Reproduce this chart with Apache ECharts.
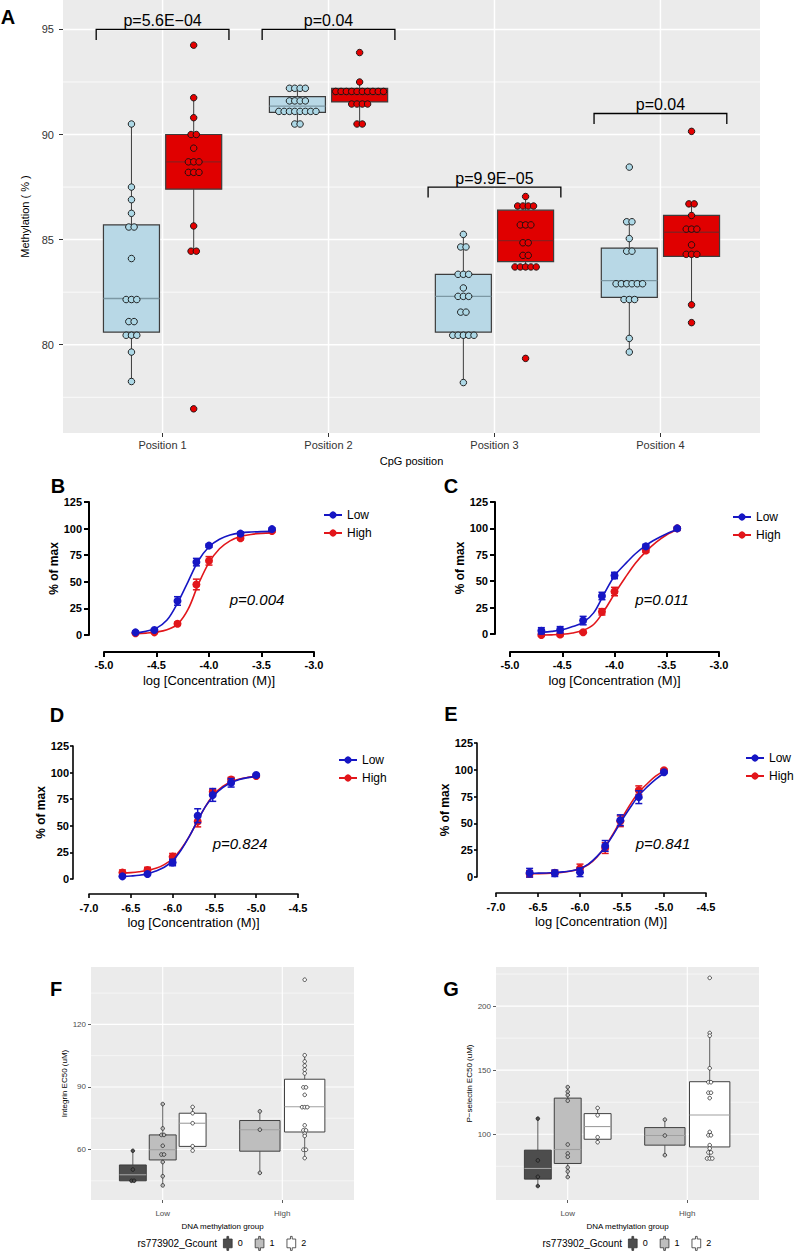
<!DOCTYPE html>
<html>
<head>
<meta charset="utf-8">
<script src="https://cdn.jsdelivr.net/npm/echarts@6.0.0/dist/echarts.min.js"></script>
<style>
  html, body { margin: 0; padding: 0; background: #fff; }
  #chart { width: 800px; height: 1252px; }
</style>
</head>
<body>
<div id="chart"></div>
<script>
const FONT = "'Liberation Sans', Arial, Helvetica, sans-serif";
const NARROW = "'Liberation Sans Narrow', 'Liberation Sans', Arial, sans-serif";
const BLUE = '#1616C4';
const RED = '#E2161B';

// ---------- A: methylation (%) per CpG position ----------
const positions = ['Position 1', 'Position 2', 'Position 3', 'Position 4'];
const lowPos1 = [90.5, 87.5, 86.9, 86.25, 85.6, 85.6, 84.1, 82.15, 82.15, 82.15, 81.1, 81.1, 80.45, 80.45, 80.45, 79.65, 78.25];
const highPos1 = [94.25, 91.75, 90.8, 90.0, 90.0, 89.35, 88.7, 88.7, 88.7, 88.2, 88.2, 88.2, 85.65, 84.45, 84.45, 76.95];
const lowPos2 = [92.2, 92.2, 92.2, 92.2, 91.6, 91.6, 91.6, 91.6, 91.1, 91.1, 91.1, 91.1, 91.1, 91.1, 91.1, 91.1, 90.5, 90.5];
const highPos2 = [93.9, 92.5, 92.05, 92.05, 92.05, 92.05, 92.05, 92.05, 92.05, 92.05, 92.05, 92.05, 91.45, 91.45, 91.45, 91.45, 90.5, 90.5];
const lowPos3 = [85.25, 84.65, 84.65, 83.35, 83.35, 83.35, 82.7, 82.3, 82.3, 82.3, 81.55, 81.55, 80.45, 80.45, 80.45, 80.45, 80.45, 78.2];
const highPos3 = [87.05, 86.6, 86.6, 86.6, 86.6, 85.7, 85.7, 85.7, 84.85, 84.85, 84.25, 84.25, 83.7, 83.7, 83.7, 83.7, 83.7, 79.35];
const lowPos4 = [88.45, 85.85, 85.85, 85.05, 84.45, 84.45, 82.9, 82.9, 82.9, 82.9, 82.9, 82.9, 82.15, 82.15, 82.15, 80.3, 79.65];
const highPos4 = [90.15, 86.7, 86.7, 86.15, 85.5, 85.5, 85.5, 84.75, 84.3, 84.3, 84.3, 81.9, 81.05];
// [lower whisker, Q1, median, Q3, upper whisker]
const lowBoxes = [[78.25, 80.6, 82.2, 85.7, 90.5], [90.5, 91.05, 91.35, 91.8, 92.2], [78.2, 80.6, 82.3, 83.35, 85.25], [79.65, 82.25, 83.05, 84.6, 85.85]];
const highBoxes = [[84.45, 87.4, 88.7, 90.0, 91.75], [90.5, 91.55, 91.9, 92.2, 92.5], [83.7, 83.95, 84.95, 86.4, 87.05], [81.9, 84.2, 85.35, 86.15, 86.7]];
const pLabels = ['p=5.6E\u221204', 'p=0.04', 'p=9.9E\u221205', 'p=0.04'];
const bracketLevels = [95, 95, 87.5, 91];
const aTicks = [80, 85, 90, 95];
const aMinor = [77.5, 82.5, 87.5, 92.5];

// ---------- B-E: dose response (mean +/- error, fitted curves) ----------
const concBC = [-4.7, -4.52, -4.3, -4.12, -4.0, -3.7, -3.4];
const concDE = [-6.6, -6.3, -6.0, -5.7, -5.52, -5.3, -5.0];
const fitXBC = [-4.7, -4.6, -4.5, -4.4, -4.3, -4.2, -4.1, -4.0, -3.9, -3.8, -3.7, -3.6, -3.5, -3.4];
const fitXDE = [-6.6, -6.5, -6.4, -6.3, -6.2, -6.1, -6.0, -5.9, -5.8, -5.7, -5.6, -5.5, -5.4, -5.3, -5.2, -5.1, -5.0];

const bLow = [2.5, 4.7, 32, 68.5, 84, 95.3, 99.5];
const bLowErr = [1, 1, 4, 3.5, 1.5, 1.5, 1];
const bHigh = [1.6, 2.5, 10.6, 47.5, 69.7, 91, 97.8];
const bHighErr = [1, 1, 1.5, 5, 4, 1.5, 1];
const bLowFit = [1.8, 3.5, 6.5, 14, 30, 50, 70, 83, 90, 94, 96, 96.8, 97.2, 97.4];
const bHighFit = [1.3, 1.8, 2.8, 5, 10, 24, 48, 68, 81, 88.5, 92.5, 94.5, 95.5, 96];

const cLow = [3, 4, 12.7, 36, 55.4, 83, 100];
const cLowErr = [3, 3, 4, 3.5, 3, 2, 1];
const cHigh = [-1, -0.5, 1.6, 21, 40.2, 79, 100];
const cHighErr = [1, 1, 1, 3, 4, 1.5, 1];
const cLowFit = [1.5, 2.5, 4, 7, 11, 20, 38, 55, 66, 76, 84, 90, 95, 99];
const cHighFit = [-1, -0.8, -0.3, 1, 3.5, 9, 22, 38, 53, 67, 78, 87, 94, 99];

const dLow = [2.5, 4.7, 15.5, 59.5, 79, 90.4, 97.7];
const dLowErr = [1, 1, 3, 6.5, 6, 4, 1];
const dHigh = [6, 8.5, 21, 54, 82, 93.5, 96.8];
const dHighErr = [2.5, 2.5, 3, 5, 2, 2, 1];
const dLowFit = [2.3, 2.8, 3.5, 5, 7.5, 11, 17, 27, 40, 55, 69, 79, 86, 90.5, 93.5, 95.3, 96.5];
const dHighFit = [5.5, 6, 6.8, 8, 10, 13.5, 19, 28, 40, 55, 69, 80, 87, 91.5, 94, 95.5, 96.5];

const eLow = [4, 3.5, 4.4, 29, 53, 74.5, 97.7];
const eLowErr = [4, 3, 4, 5, 5, 6, 1];
const eHigh = [3, 4, 8, 27, 52, 81, 99.5];
const eHighErr = [3, 2, 4, 5, 5, 4, 1];
const eLowFit = [3.5, 3.6, 3.8, 4.2, 4.8, 5.8, 8, 12, 19, 28, 40, 53, 65, 76, 84, 91, 97];
const eHighFit = [3, 3.1, 3.3, 3.7, 4.4, 5.6, 7.8, 11.5, 18.5, 28.5, 41, 55, 68, 79, 87, 94, 99];

// ---------- F, G: EC50 by methylation group and rs773902 G count ----------
const methylGroups = ['Low', 'High'];
const gLevels = ['0', '1', '2'];
const fLow0 = [59.4, 50.4, 45.0, 45.0];
const fLow1 = [81.8, 70.1, 67.0, 67.0, 61.8, 57.6, 57.6, 54.0, 47.2, 42.8];
const fLow2 = [80.4, 77.4, 72.6, 61.6, 59.5];
const fHigh1 = [78.3, 69.5, 48.8];
const fHigh2 = [141.4, 105.2, 102.2, 100.2, 98.3, 96.5, 89.8, 89.8, 86.2, 80.3, 80.3, 80.3, 71.6, 69.2, 69.2, 67.6, 66.5, 59.9, 59.9, 55.9];
const fLow0Box = [45.0, 45.0, 47.9, 52.6, 59.4];
const fLow1Box = [42.8, 55.0, 59.9, 67.0, 81.8];
const fLow2Box = [59.5, 61.5, 72.6, 77.4, 80.4];
const fHigh1Box = [48.8, 59.2, 69.5, 73.9, 78.3];
const fHigh2Box = [55.9, 68.4, 80.5, 93.7, 105.2];
const fTicks = [60, 90, 120];
const fMinor = [45, 75, 105, 135];

const gLow0 = [112.2, 79.6, 66.8, 59.6];
const gLow1 = [136.8, 133.2, 130.6, 126.2, 92.0, 85.0, 82.4, 74.1, 71.0, 66.6];
const gLow2 = [120.5, 114.8, 97.7, 93.8];
const gHigh1 = [111.4, 99.0, 83.7];
const gHigh2 = [222.0, 179.0, 176.9, 151.5, 140.6, 140.6, 132.4, 132.4, 128.2, 101.8, 99.2, 99.2, 91.5, 88.9, 85.8, 85.8, 81.1, 81.1, 81.1];
const gLow0Box = [59.6, 65.0, 73.3, 87.6, 112.2];
const gLow1Box = [66.6, 77.2, 88.1, 128.2, 136.8];
const gLow2Box = [93.8, 96.1, 106.0, 116.1, 120.5];
const gHigh1Box = [83.7, 91.5, 99.0, 105.2, 111.4];
const gHigh2Box = [81.1, 90.1, 115.0, 141.0, 179.0];
const gTicks = [100, 150, 200];
const gMinor = [75, 125, 175, 225];

// ---------- helpers ----------
// centred dot stacking, like geom_dotplot(stackdir = "center")
function stackDots(values, center, step) {
  const counts = {}, seen = {};
  values.forEach(v => { counts[v] = (counts[v] || 0) + 1; });
  return values.map(v => {
    seen[v] = seen[v] === undefined ? 0 : seen[v] + 1;
    return [center + (seen[v] - (counts[v] - 1) / 2) * step, v];
  });
}

// dodge position of a slot inside a category
function dodge(cat, slot, n) {
  const w = 0.75 / n;
  return { x: cat + (slot - (n - 1) / 2) * w, halfW: 0.45 * w };
}

function panelGrid(g, hMajor, hMinor, vMajor, xRef, yRef, major, minor) {
  const data = [];
  hMinor.forEach(v => data.push([0, v, minor]));
  hMajor.forEach(v => data.push([0, v, major]));
  vMajor.forEach(v => data.push([1, v, major]));
  return {
    type: 'custom', xAxisIndex: g, yAxisIndex: g, silent: true, z: 1, data,
    renderItem(params, api) {
      const cs = params.coordSys;
      const v = api.value(1), w = api.value(2);
      if (api.value(0) === 0) {
        const y = api.coord([xRef, v])[1];
        return { type: 'line', shape: { x1: cs.x, y1: y, x2: cs.x + cs.width, y2: y }, style: { stroke: '#fff', lineWidth: w } };
      }
      const x = api.coord([v, yRef])[0];
      return { type: 'line', shape: { x1: x, y1: cs.y, x2: x, y2: cs.y + cs.height }, style: { stroke: '#fff', lineWidth: w } };
    }
  };
}

function boxSeries(g, name, items, fill, medianColor, edge, lineW) {
  return {
    type: 'custom', name, xAxisIndex: g, yAxisIndex: g, z: 2, silent: true,
    itemStyle: { color: fill, borderColor: edge, borderWidth: 0.8 },
    data: items.map(it => [it.x].concat(it.stats)),
    encode: { x: 0, y: [1, 2, 3, 4, 5] },
    renderItem(params, api) {
      const it = items[params.dataIndex];
      const x = api.value(0);
      const pt = k => api.coord([x, api.value(k)]);
      const lo = pt(1), q1 = pt(2), md = pt(3), q3 = pt(4), hi = pt(5);
      const l = api.coord([x - it.halfW, 0])[0], r = api.coord([x + it.halfW, 0])[0];
      const ls = { stroke: edge, lineWidth: lineW };
      return { type: 'group', children: [
        { type: 'line', shape: { x1: lo[0], y1: lo[1], x2: q1[0], y2: q1[1] }, style: ls },
        { type: 'line', shape: { x1: q3[0], y1: q3[1], x2: hi[0], y2: hi[1] }, style: ls },
        { type: 'rect', shape: { x: l, y: q3[1], width: r - l, height: q1[1] - q3[1] }, style: { fill, stroke: edge, lineWidth: lineW * 1.2 } },
        { type: 'line', shape: { x1: l, y1: md[1], x2: r, y2: md[1] }, style: { stroke: medianColor, lineWidth: lineW * 1.4 } }
      ]};
    }
  };
}

function dotSeries(g, values, center, step, fill, size, bw) {
  return {
    type: 'scatter', xAxisIndex: g, yAxisIndex: g, z: 3, silent: true,
    symbol: 'circle', symbolSize: size,
    itemStyle: { color: fill, borderColor: '#111', borderWidth: bw, opacity: 1 },
    data: stackDots(values, center, step)
  };
}

function errorBars(g, xs, ys, errs, color, z) {
  return {
    type: 'custom', xAxisIndex: g, yAxisIndex: g, z, silent: true,
    data: xs.map((x, i) => [x, ys[i], errs[i]]),
    renderItem(params, api) {
      const x = api.value(0), y = api.value(1), e = api.value(2);
      const top = api.coord([x, y + e]), bot = api.coord([x, y - e]);
      const w = 3.5, s = { stroke: color, lineWidth: 1.5 };
      return { type: 'group', children: [
        { type: 'line', shape: { x1: top[0], y1: top[1], x2: bot[0], y2: bot[1] }, style: s },
        { type: 'line', shape: { x1: top[0] - w, y1: top[1], x2: top[0] + w, y2: top[1] }, style: s },
        { type: 'line', shape: { x1: bot[0] - w, y1: bot[1], x2: bot[0] + w, y2: bot[1] }, style: s }
      ]};
    }
  };
}

function doseSeries(g, xs, fitX, low, lowErr, lowFit, high, highErr, highFit) {
  const curve = (name, ys, color, z) => ({
    type: 'line', name, xAxisIndex: g, yAxisIndex: g, z, silent: true, clip: false,
    data: fitX.map((x, i) => [x, ys[i]]),
    smooth: 0.35, symbol: 'circle', symbolSize: 8, showSymbol: false,
    lineStyle: { color, width: 1.6 }, itemStyle: { color }
  });
  const points = (ys, color, z) => ({
    type: 'scatter', xAxisIndex: g, yAxisIndex: g, z, silent: true, clip: false,
    symbol: 'circle', symbolSize: 8, itemStyle: { color, opacity: 1 },
    data: xs.map((x, i) => [x, ys[i]])
  });
  return [
    curve('High', highFit, RED, 3), errorBars(g, xs, high, highErr, RED, 3), points(high, RED, 3),
    curve('Low', lowFit, BLUE, 4), errorBars(g, xs, low, lowErr, BLUE, 4), points(low, BLUE, 4)
  ];
}

function doseX(g, min, max, offset, small) {
  return {
    gridIndex: g, type: 'value', min, max, interval: 0.5, offset,
    axisLine: { onZero: false, lineStyle: { color: '#000', width: small ? 1.6 : 2 } },
    axisTick: { length: small ? 4 : 5, lineStyle: { color: '#000', width: small ? 1.6 : 2 } },
    axisLabel: { formatter: v => v.toFixed(1), color: '#000', fontWeight: 'bold', fontSize: 11, fontFamily: FONT, margin: small ? 8 : 7 },
    splitLine: { show: false },
    name: 'log [Concentration (M)]', nameLocation: 'middle', nameGap: 22,
    nameTextStyle: { color: '#000', fontSize: 13, fontFamily: FONT }
  };
}

function doseY(g, offset, nameGap, small) {
  return {
    gridIndex: g, type: 'value', min: 0, max: 125, interval: 25, offset,
    axisLine: { onZero: false, lineStyle: { color: '#000', width: small ? 1.6 : 2 } },
    axisTick: { length: small ? 3 : 5, lineStyle: { color: '#000', width: small ? 1.6 : 2 } },
    axisLabel: { color: '#000', fontWeight: 'bold', fontSize: 11, fontFamily: FONT, margin: small ? 4 : 7 },
    splitLine: { show: false },
    name: '% of max', nameLocation: 'middle', nameRotate: 90, nameGap,
    nameTextStyle: { color: '#000', fontSize: 12, fontWeight: 'bold', fontFamily: FONT }
  };
}

function ggX(g, name) {
  return {
    gridIndex: g, type: 'value', min: 0.4, max: 2.6,
    axisLine: { show: false }, splitLine: { show: false },
    axisTick: { show: true, customValues: [1, 2], length: 3, lineStyle: { color: '#333', width: 0.8 } },
    axisLabel: { customValues: [1, 2], formatter: v => methylGroups[v - 1], fontSize: 8, color: '#4D4D4D', fontFamily: NARROW, margin: 9 },
    name, nameLocation: 'middle', nameGap: 22,
    nameTextStyle: { fontSize: 8, color: '#000', fontFamily: NARROW }
  };
}

function ggY(g, min, max, ticks, name) {
  return {
    gridIndex: g, type: 'value', min, max,
    axisLine: { show: false }, splitLine: { show: false },
    axisTick: { show: true, customValues: ticks, length: 3, lineStyle: { color: '#333', width: 0.8 } },
    axisLabel: { customValues: ticks, fontSize: 8, color: '#4D4D4D', fontFamily: NARROW, margin: 5 },
    name, nameLocation: 'middle', nameRotate: 90, nameGap: 20,
    nameTextStyle: { fontSize: 8, color: '#000', fontFamily: NARROW }
  };
}

// F / G boxes: Low has G counts 0,1,2 (3 slots), High has 1,2 (2 slots)
function ecPanel(g, groups, levelFills, medianCol) {
  const out = [];
  gLevels.forEach((lvl, li) => {
    const items = [], dots = [];
    groups.forEach(grp => {
      const k = grp.levels.findIndex(x => x.level === li);
      if (k < 0) return;
      const d = dodge(grp.cat, k, grp.levels.length);
      items.push({ x: d.x, halfW: d.halfW, stats: grp.levels[k].box });
      dots.push(dotSeries(g, grp.levels[k].pts, d.x, 0.022, levelFills[li], 3.6, 0.7));
    });
    out.push(boxSeries(g, lvl, items, levelFills[li], medianCol, '#3A3A3A', 0.8));
    out.push(...dots);
  });
  return out;
}

const levelFills = ['#4D4D4D', '#BEBEBE', '#FFFFFF'];

// ---------- panel A series ----------
const aSeries = [panelGrid(0, aTicks, aMinor, [1, 2, 3, 4], 1, 80, 1.5, 0.8)];
const aLowItems = lowBoxes.map((b, i) => Object.assign(dodge(i + 1, 0, 2), { stats: b }));
const aHighItems = highBoxes.map((b, i) => Object.assign(dodge(i + 1, 1, 2), { stats: b }));
aSeries.push(boxSeries(0, 'Low methylation', aLowItems, '#B8D8E6', '#7C98A4', '#3D3D3D', 1));
aSeries.push(boxSeries(0, 'High methylation', aHighItems, '#E00000', '#8E1C1C', '#3D3D3D', 1));
[lowPos1, lowPos2, lowPos3, lowPos4].forEach((pts, i) => aSeries.push(dotSeries(0, pts, aLowItems[i].x, 0.032, '#ADD8E6', 6.5, 0.9)));
[highPos1, highPos2, highPos3, highPos4].forEach((pts, i) => aSeries.push(dotSeries(0, pts, aHighItems[i].x, 0.032, '#E50000', 6.5, 0.9)));
aSeries.push({
  type: 'custom', xAxisIndex: 0, yAxisIndex: 0, z: 4, silent: true,
  data: bracketLevels.map((y, i) => [i + 1, y]),
  renderItem(params, api) {
    const c = api.value(0), y = api.value(1);
    const a = api.coord([c - 0.4, y - 0.5]), b = api.coord([c - 0.4, y]);
    const d = api.coord([c + 0.4, y]), e = api.coord([c + 0.4, y - 0.5]);
    return { type: 'group', children: [
      { type: 'polyline', shape: { points: [a, b, d, e] }, style: { stroke: '#000', lineWidth: 1.3, fill: null } },
      { type: 'text', x: (b[0] + d[0]) / 2, y: b[1] - 1,
        style: { text: pLabels[params.dataIndex], fill: '#000', fontSize: 16, fontFamily: FONT,
          align: 'center', verticalAlign: 'bottom', textAlign: 'center', textVerticalAlign: 'bottom' } }
    ]};
  }
});

const series = [
  ...aSeries,
  ...doseSeries(1, concBC, fitXBC, bLow, bLowErr, bLowFit, bHigh, bHighErr, bHighFit),
  ...doseSeries(2, concBC, fitXBC, cLow, cLowErr, cLowFit, cHigh, cHighErr, cHighFit),
  ...doseSeries(3, concDE, fitXDE, dLow, dLowErr, dLowFit, dHigh, dHighErr, dHighFit),
  ...doseSeries(4, concDE, fitXDE, eLow, eLowErr, eLowFit, eHigh, eHighErr, eHighFit),
  panelGrid(5, fTicks, fMinor, [1, 2], 1, 60, 1.1, 0.55),
  ...ecPanel(5, [
    { cat: 1, levels: [{ level: 0, pts: fLow0, box: fLow0Box }, { level: 1, pts: fLow1, box: fLow1Box }, { level: 2, pts: fLow2, box: fLow2Box }] },
    { cat: 2, levels: [{ level: 1, pts: fHigh1, box: fHigh1Box }, { level: 2, pts: fHigh2, box: fHigh2Box }] }
  ], levelFills, '#A0A0A0'),
  panelGrid(6, gTicks, gMinor, [1, 2], 1, 100, 1.1, 0.55),
  ...ecPanel(6, [
    { cat: 1, levels: [{ level: 0, pts: gLow0, box: gLow0Box }, { level: 1, pts: gLow1, box: gLow1Box }, { level: 2, pts: gLow2, box: gLow2Box }] },
    { cat: 2, levels: [{ level: 1, pts: gHigh1, box: gHigh1Box }, { level: 2, pts: gHigh2, box: gHigh2Box }] }
  ], levelFills, '#A0A0A0')
];

const doseLegend = (left, top) => ({
  data: ['Low', 'High'], left, top, orient: 'vertical', itemWidth: 18, itemHeight: 9, itemGap: 6,
  selectedMode: false, textStyle: { fontSize: 12, color: '#000', fontFamily: FONT }
});
const boxIcon = 'path://M4,0L6,0L6,3L10,3L10,13L6,13L6,16L4,16L4,13L0,13L0,3L4,3Z';
const gcountLegend = (left) => ({
  data: gLevels.map((n, i) => ({ name: n, itemStyle: { color: levelFills[i], borderColor: '#333', borderWidth: 0.8 } })),
  left, top: 1236, padding: 0, orient: 'horizontal', icon: boxIcon, itemWidth: 10, itemHeight: 14, itemGap: 12,
  selectedMode: false, textStyle: { fontSize: 9, color: '#000', fontFamily: NARROW }
});

const letter = (t, x, y) => ({ type: 'text', x, y, style: { text: t, fill: '#000', font: 'bold 20px ' + FONT,
  align: 'center', verticalAlign: 'middle', textAlign: 'center', textVerticalAlign: 'middle' } });
const pText = (t, x, y) => ({ type: 'text', x, y, style: { text: t, fill: '#000', font: 'italic 15px ' + FONT,
  align: 'center', verticalAlign: 'middle', textAlign: 'center', textVerticalAlign: 'middle' } });
const legTitle = (x) => ({ type: 'text', x, y: 1243, style: { text: 'rs773902_Gcount', fill: '#000', font: '10px ' + NARROW,
  align: 'right', verticalAlign: 'middle', textAlign: 'right', textVerticalAlign: 'middle' } });

const option = {
  animation: false,
  backgroundColor: '#fff',
  textStyle: { fontFamily: FONT },
  grid: [
    { left: 63, top: 0, width: 697, height: 433, show: true, backgroundColor: '#EBEBEB', borderWidth: 0, outerBoundsMode: 'none' },
    { left: 104, top: 502, width: 210, height: 133, outerBoundsMode: 'none' },
    { left: 510, top: 502, width: 209, height: 132, outerBoundsMode: 'none' },
    { left: 89, top: 746, width: 209, height: 133, outerBoundsMode: 'none' },
    { left: 496, top: 743, width: 210, height: 134, outerBoundsMode: 'none' },
    { left: 91, top: 967, width: 263, height: 233, show: true, backgroundColor: '#EBEBEB', borderWidth: 0, outerBoundsMode: 'none' },
    { left: 496, top: 967, width: 263, height: 233, show: true, backgroundColor: '#EBEBEB', borderWidth: 0, outerBoundsMode: 'none' }
  ],
  xAxis: [
    {
      gridIndex: 0, type: 'value', min: 0.4, max: 4.6,
      axisLine: { show: false }, splitLine: { show: false },
      axisTick: { show: true, customValues: [1, 2, 3, 4], length: 4, lineStyle: { color: '#333' } },
      axisLabel: { customValues: [1, 2, 3, 4], formatter: v => positions[v - 1], fontSize: 11, color: '#333', fontFamily: FONT, margin: 6 },
      name: 'CpG position', nameLocation: 'middle', nameGap: 22,
      nameTextStyle: { fontSize: 11, color: '#000', fontFamily: FONT }
    },
    doseX(1, -5, -3, 17, false),
    doseX(2, -5, -3, 18, false),
    doseX(3, -7, -4.5, 15, true),
    doseX(4, -7, -4.5, 16, true),
    ggX(5, 'DNA methylation group'),
    ggX(6, 'DNA methylation group')
  ],
  yAxis: [
    {
      gridIndex: 0, type: 'value', min: 75.8, max: 96.4,
      axisLine: { show: false }, splitLine: { show: false },
      axisTick: { show: true, customValues: aTicks, length: 4, lineStyle: { color: '#333' } },
      axisLabel: { customValues: aTicks, fontSize: 11, color: '#333', fontFamily: FONT, margin: 9 },
      name: 'Methylation ( % )', nameLocation: 'middle', nameRotate: 90, nameGap: 28,
      nameTextStyle: { fontSize: 11, color: '#000', fontFamily: FONT }
    },
    doseY(1, 15, 27, false),
    doseY(2, 15, 28, false),
    doseY(3, 16, 21, true),
    doseY(4, 19, 24, true),
    ggY(5, 35.8, 147.5, fTicks, 'Integrin EC50 (uM)'),
    ggY(6, 48.7, 230.5, gTicks, 'P\u2212selectin EC50 (uM)')
  ],
  legend: [
    doseLegend(318, 504),
    doseLegend(727, 506),
    doseLegend(333, 749),
    doseLegend(740, 747),
    gcountLegend(223),
    gcountLegend(628)
  ],
  graphic: [
    letter('A', 8, 17), letter('B', 58, 486), letter('C', 451, 486),
    letter('D', 57, 715), letter('E', 451, 714), letter('F', 56, 989), letter('G', 451, 989),
    pText('p=0.004', 257, 599), pText('p=0.011', 662, 599),
    pText('p=0.824', 240, 843), pText('p=0.841', 663, 843),
    legTitle(217), legTitle(622)
  ],
  series
};

const chart = echarts.init(document.getElementById('chart'), null, { renderer: 'svg', width: 800, height: 1252 });
chart.setOption(option);
</script>
</body>
</html>
